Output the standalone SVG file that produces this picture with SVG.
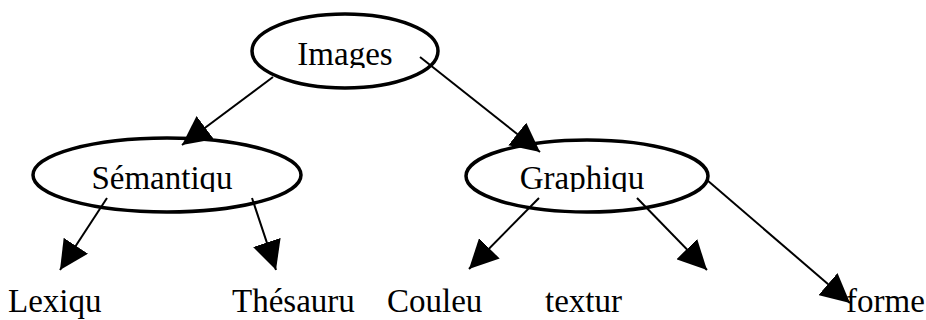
<svg xmlns="http://www.w3.org/2000/svg" width="926" height="320" viewBox="0 0 926 320">
  <style>
    .node { fill: #ffffff; stroke: #000000; stroke-width: 3.5; }
    .label { font-family: "Liberation Serif", "Times New Roman", serif; font-size: 33px; fill: #000000; }
    .edge { stroke: #000000; stroke-width: 2; fill: none; marker-end: url(#arrow); }
  </style>
  <defs>
    <marker id="arrow" markerUnits="userSpaceOnUse" markerWidth="29" markerHeight="29" refX="29" refY="14.5" orient="auto">
      <path d="M0,0 L29,14.5 L0,29 Z" fill="#000000"/>
    </marker>
    <!-- text boxes cut off the descenders -->
    <clipPath id="clipTop"><rect x="0" y="0" width="926" height="68"/></clipPath>
    <clipPath id="clipMid"><rect x="0" y="100" width="926" height="92"/></clipPath>
  </defs>

  <g id="node-images">
    <ellipse class="node" cx="345" cy="51" rx="93" ry="37"/>
    <text class="label" x="345" y="65" text-anchor="middle" clip-path="url(#clipTop)">Images</text>
  </g>
  <g id="node-semantiqu">
    <ellipse class="node" cx="167" cy="175" rx="134" ry="37"/>
    <text class="label" x="162" y="189" text-anchor="middle" clip-path="url(#clipMid)">Sémantiqu</text>
  </g>
  <g id="node-graphiqu">
    <ellipse class="node" cx="587" cy="176" rx="121" ry="36"/>
    <text class="label" x="582" y="189" text-anchor="middle" clip-path="url(#clipMid)">Graphiqu</text>
  </g>
  <g id="node-lexiqu"><text class="label" x="8" y="312">Lexiqu</text></g>
  <g id="node-thesauru"><text class="label" x="232" y="312">Thésauru</text></g>
  <g id="node-couleu"><text class="label" x="387" y="312">Couleu</text></g>
  <g id="node-textur"><text class="label" x="545" y="312">textur</text></g>
  <g id="node-forme"><text class="label" x="846" y="312">forme</text></g>

  <g id="connectors">
    <line class="edge" x1="273" y1="77" x2="182" y2="145"/>
    <line class="edge" x1="420" y1="57" x2="540" y2="152"/>
    <line class="edge" x1="107" y1="198" x2="60" y2="270"/>
    <line class="edge" x1="252" y1="198" x2="276" y2="270"/>
    <line class="edge" x1="539" y1="198" x2="469" y2="269"/>
    <line class="edge" x1="637" y1="198" x2="707" y2="270"/>
    <line class="edge" x1="707" y1="180" x2="850" y2="303"/>
  </g>
</svg>
